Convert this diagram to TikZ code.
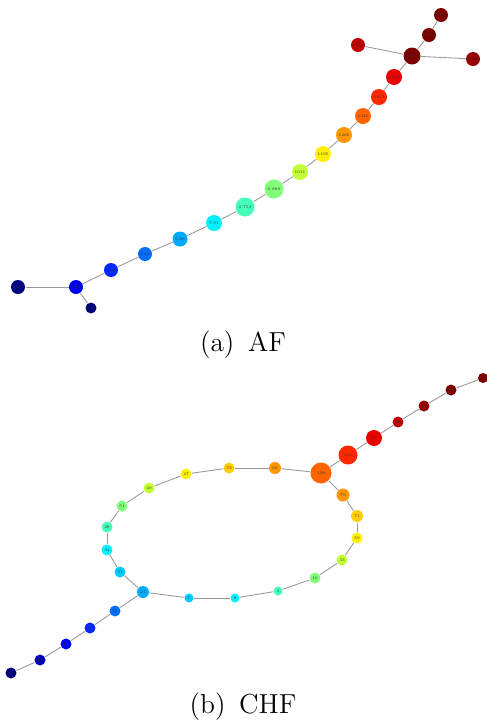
\documentclass[tikz,border=0pt]{standalone}
\usepackage{tikz}
\usetikzlibrary{positioning}

% jet colours
\definecolor{jA}{RGB}{0,0,128}
\definecolor{jB}{RGB}{0,0,180}
\definecolor{jC}{RGB}{0,0,235}
\definecolor{jD}{RGB}{0,40,255}
\definecolor{jE}{RGB}{0,110,255}
\definecolor{jF}{RGB}{0,170,255}
\definecolor{jG}{RGB}{0,205,255}
\definecolor{jH}{RGB}{0,240,255}
\definecolor{jI}{RGB}{70,255,185}
\definecolor{jJ}{RGB}{130,255,120}
\definecolor{jK}{RGB}{195,255,55}
\definecolor{jL}{RGB}{255,240,0}
\definecolor{jM}{RGB}{255,205,0}
\definecolor{jN}{RGB}{255,150,0}
\definecolor{jO}{RGB}{255,100,0}
\definecolor{jP}{RGB}{255,40,0}
\definecolor{jQ}{RGB}{235,0,0}
\definecolor{jR}{RGB}{190,0,0}
\definecolor{jS}{RGB}{150,0,0}
\definecolor{jT}{RGB}{125,0,0}

\begin{document}
\begin{tikzpicture}[
    x=0.4pt, y=-0.4pt,
    % vertex and edge styles
    vtx/.style={circle, draw=none, inner sep=0pt, minimum size=#1, font=\fontsize{1.6}{2}\selectfont, text=black!80},
    edge/.style={draw=black!40, line width=0.35pt},
    caption/.style={font=\fontsize{11}{13}\selectfont}
]
\useasboundingbox (0,0) rectangle (487,721);

% --- (a) AF ---
\node[vtx=5.6pt, fill=jA] (a01) at (18,287) {1.90};
\node[vtx=4.4pt, fill=jA] (a02) at (91,308) {2.26};
\node[vtx=5.6pt, fill=jC] (a03) at (76,287) {3.88};
\node[vtx=5.6pt, fill=jD] (a04) at (111,270) {4.48};
\node[vtx=5.6pt, fill=jE] (a05) at (145,254) {5.88};
\node[vtx=6pt, fill=jF] (a06) at (180,239) {6.88};
\node[vtx=6.4pt, fill=jH] (a07) at (214,223) {7.91};
\node[vtx=7.6pt, fill=jI] (a08) at (245,207) {0.753};
\node[vtx=7.6pt, fill=jJ] (a09) at (274,189) {0.889};
\node[vtx=6.4pt, fill=jK] (a10) at (300,172) {1011};
\node[vtx=6.4pt, fill=jL] (a11) at (323,154) {1195};
\node[vtx=6.4pt, fill=jN] (a12) at (344,135) {1266};
\node[vtx=6.4pt, fill=jO] (a13) at (363,116) {1345};
\node[vtx=6.4pt, fill=jP] (a14) at (379,97) {1433};
\node[vtx=6.4pt, fill=jQ] (a15) at (394,77) {1538};
\node[vtx=6.8pt, fill=jT] (a16) at (412,56) {1636};
\node[vtx=5.6pt, fill=jT] (a17) at (429,35) {1852};
\node[vtx=5.6pt, fill=jT] (a18) at (441,15) {1863};
\node[vtx=5.6pt, fill=jR] (a19) at (358,45) {1815};
\node[vtx=5.6pt, fill=jS] (a20) at (473,59) {1724};

\node[caption] (capa) at (243,345) {(a)\enspace AF};

% --- (b) CHF ---
% tail
\node[vtx=4.4pt, fill=jA] (b01) at (11,673) {10};
\node[vtx=4.4pt, fill=jB] (b02) at (40,660) {15};
\node[vtx=4.4pt, fill=jC] (b03) at (66,644) {17};
\node[vtx=4.4pt, fill=jD] (b04) at (90,628) {24};
\node[vtx=4.4pt, fill=jE] (b05) at (115,611) {26};
\node[vtx=4.8pt, fill=jF] (b06) at (143,592) {21};
% ring, lower half
\node[vtx=3.6pt, fill=jG] (b07) at (189,598) {7};
\node[vtx=3.6pt, fill=jH] (b08) at (235,598) {8};
\node[vtx=3.6pt, fill=jI] (b09) at (278,591) {3};
\node[vtx=4.4pt, fill=jJ] (b10) at (315,578) {16};
\node[vtx=4.4pt, fill=jK] (b11) at (342,560) {35};
\node[vtx=4.4pt, fill=jL] (b12) at (357,538) {59};
\node[vtx=4.8pt, fill=jM] (b13) at (357,516) {71};
\node[vtx=5.2pt, fill=jN] (b14) at (343,495) {79};
\node[vtx=8.4pt, fill=jO] (b15) at (321,473) {138};
% head
\node[vtx=7.6pt, fill=jP] (b16) at (348,455) {113};
\node[vtx=6.4pt, fill=jQ] (b17) at (374,438) {97};
\node[vtx=4.4pt, fill=jR] (b18) at (398,422) {56};
\node[vtx=4.4pt, fill=jS] (b19) at (424,406) {12};
\node[vtx=4.4pt, fill=jT] (b20) at (451,390) {11};
\node[vtx=4pt, fill=jT] (b21) at (483,378) {1};
% ring, upper half
\node[vtx=4.8pt, fill=jN] (b22) at (275,468) {68};
\node[vtx=4.4pt, fill=jM] (b23) at (229,468) {53};
\node[vtx=4.4pt, fill=jL] (b24) at (186,474) {47};
\node[vtx=4.4pt, fill=jK] (b25) at (149,488) {49};
\node[vtx=4.4pt, fill=jJ] (b26) at (122,506) {51};
\node[vtx=4.4pt, fill=jI] (b27) at (107,527) {28};
\node[vtx=4.4pt, fill=jH] (b28) at (107,550) {34};
\node[vtx=4.4pt, fill=jG] (b29) at (120,572) {31};

\node[caption] (capb) at (243,707) {(b)\enspace CHF};

% --- Edges ---
\draw[edge] (a01) -- (a03);
\draw[edge] (a02) -- (a03);
\foreach \i/\j in {03/04, 04/05, 05/06, 06/07, 07/08, 08/09, 09/10, 10/11, 11/12, 12/13, 13/14, 14/15, 15/16, 16/17, 17/18, 16/19, 16/20}
    \draw[edge] (a\i) -- (a\j);

\foreach \i/\j in {01/02, 02/03, 03/04, 04/05, 05/06, 06/07, 07/08, 08/09, 09/10, 10/11, 11/12, 12/13, 13/14, 14/15, 15/16, 16/17, 17/18, 18/19, 19/20, 20/21, 15/22, 22/23, 23/24, 24/25, 25/26, 26/27, 27/28, 28/29, 29/06}
    \draw[edge] (b\i) -- (b\j);

\end{tikzpicture}
\end{document}
